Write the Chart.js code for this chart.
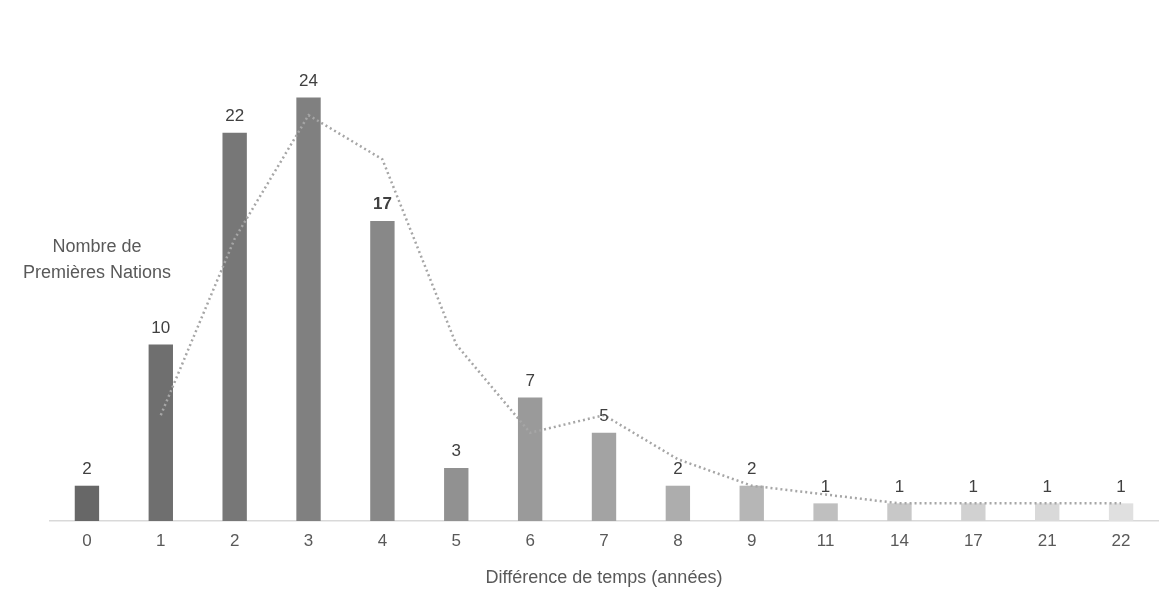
<!DOCTYPE html><html><head><meta charset="utf-8"><script src="https://cdn.jsdelivr.net/npm/chart.js@4"></script>
<style>html,body{margin:0;background:#fff}#w{width:1170px;height:601px}</style></head><body><div id="w"><canvas id="c"></canvas></div>
<script>
const categories=['0','1','2','3','4','5','6','7','8','9','11','14','17','21','22'];
const counts=[2,10,22,24,17,3,7,5,2,2,1,1,1,1,1];
const trend=[null,6,16,23,20.5,10,5,6,3.5,2,1.5,1,1,1,1];
const barColors=['#676767','#6f6f6f','#777777','#808080','#888888','#919191','#9a9a9a','#a3a3a3','#adadad','#b6b6b6','#bfbfbf','#c8c8c8','#d1d1d1','#d9d9d9','#e0e0e0'];
const labelsPlugin={id:'lbl',afterDatasetsDraw(ch){const c=ch.ctx;const m=ch.getDatasetMeta(1);c.save();c.textAlign='center';c.textBaseline='bottom';c.fillStyle='#404040';
m.data.forEach((b,i)=>{c.font=(i===4?'bold ':'')+'17px "Liberation Sans", Arial';c.fillText(counts[i],b.x,b.y-8);});
c.font='18px "Liberation Sans", Arial';c.fillStyle='#595959';c.fillText('Nombre de',97,256);c.fillText('Premières Nations',97,282);c.restore();}};
new Chart(document.getElementById('c'),{type:'bar',data:{labels:categories,datasets:[
{type:'line',data:trend,borderColor:'#a6a6a6',borderWidth:2.5,borderDash:[2,3],pointRadius:0,fill:false,tension:0,order:0},
{data:counts,backgroundColor:barColors,barPercentage:0.33,categoryPercentage:1,order:1}]},
options:{responsive:true,maintainAspectRatio:false,animation:false,layout:{padding:{left:50,right:12,top:27,bottom:8}},
plugins:{legend:{display:false},tooltip:{enabled:false}},
scales:{y:{display:false,min:0,max:28},x:{grid:{display:false,drawTicks:false},border:{color:'#d9d9d9',width:1.5},
ticks:{color:'#595959',font:{size:17,family:'"Liberation Sans", Arial'},padding:10},
title:{display:true,text:'Différence de temps (années)',color:'#595959',font:{size:18,family:'"Liberation Sans", Arial'},padding:{top:6}}}}},
plugins:[labelsPlugin]});
</script></body></html>
